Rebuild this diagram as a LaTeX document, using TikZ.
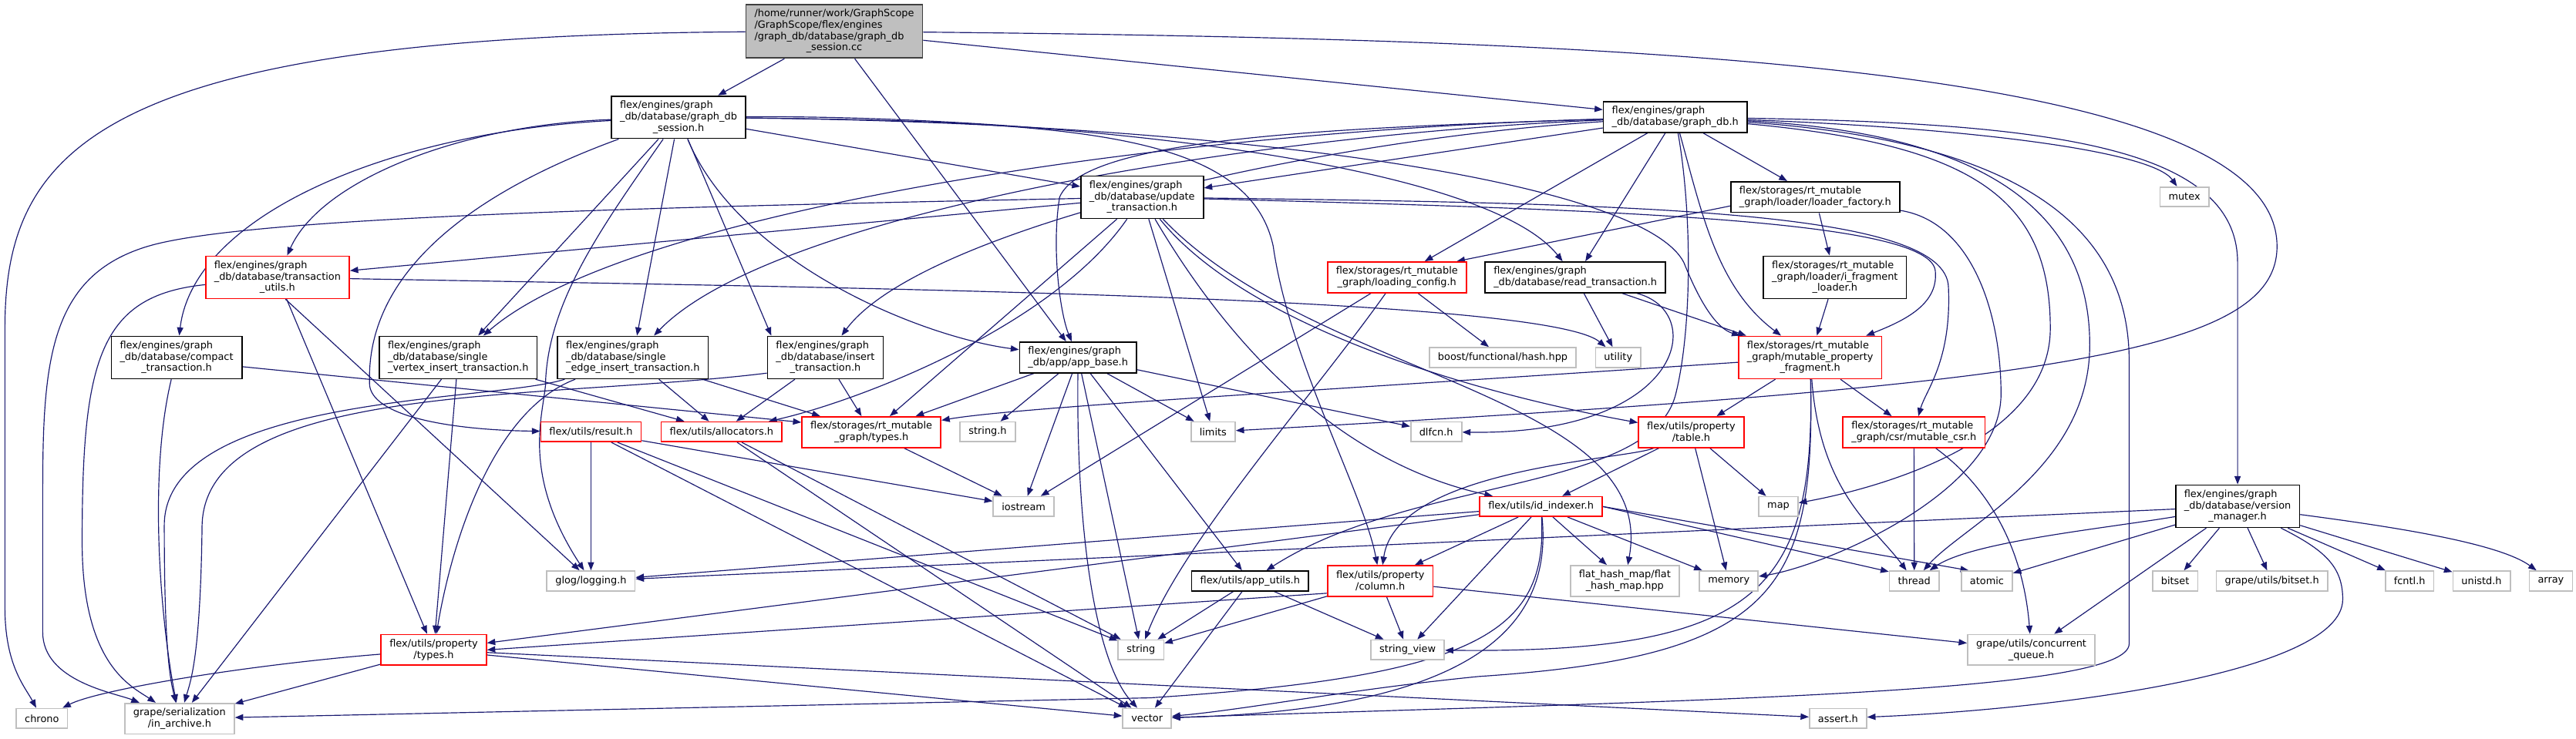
\documentclass[tikz,border=0pt]{standalone}
\usepackage{fontspec}
\usetikzlibrary{arrows.meta}
\newfontfamily\dxsans{DejaVu Sans}
\definecolor{edgeblue}{HTML}{191970}
\definecolor{sysgrey}{HTML}{BFBFBF}
\definecolor{rootfill}{HTML}{BFBFBF}
\definecolor{rootline}{HTML}{404040}
\newcommand\lastln[1]{\hspace*{0pt plus 1fil}#1}
\pgfdeclarelayer{edges}
\pgfsetlayers{edges,main}

\begin{document}
\begin{tikzpicture}[
  x=1pt, y=-1pt,
  hdr/.style={rectangle, draw=black, line width=0.8pt, fill=white, align=left, font=\dxsans\fontsize{6.05}{6.9}\selectfont, inner xsep=5.2pt, inner ysep=1pt, minimum height=12pt},
  l2/.style={minimum height=18.7pt},
  l3/.style={minimum height=25.8pt},
  l4/.style={minimum height=32.7pt},
  trunc/.style={hdr, draw=red},
  sys/.style={hdr, draw=sysgrey},
  rootfile/.style={hdr, l4, fill=rootfill, draw=rootline},
  dep/.style={-{Triangle[length=5pt,width=3.8pt]}, draw=edgeblue, line width=0.55pt}
]
\useasboundingbox (0,0) rectangle (1568,450);
\node[rootfile] (root) at (507.8,19) {/home/runner/work/GraphScope\\/GraphScope/flex/engines\\/graph\_db/database/graph\_db\\\lastln{\_session.cc}};
\node[hdr, l3] (ses) at (413,71.4) {flex/engines/graph\\\_db/database/graph\_db\\\lastln{\_session.h}};
\node[hdr, l2] (gdb) at (1019.7,71.3) {flex/engines/graph\\\lastln{\_db/database/graph\_db.h}};
\node[hdr, l3] (upd) at (695.2,120.1) {flex/engines/graph\\\_db/database/update\\\lastln{\_transaction.h}};
\node[hdr, l2] (ldf) at (1104.9,120) {flex/storages/rt\_mutable\\\lastln{\_graph/loader/loader\_factory.h}};
\node[sys] (mutex) at (1329.6,119.9) {mutex};
\node[trunc, l3] (tutl) at (168.9,168.9) {flex/engines/graph\\\_db/database/transaction\\\lastln{\_utils.h}};
\node[trunc, l2] (lcfg) at (850.3,168.9) {flex/storages/rt\_mutable\\\lastln{\_graph/loading\_config.h}};
\node[hdr, l2] (rd) at (958.9,168.9) {flex/engines/graph\\\lastln{\_db/database/read\_transaction.h}};
\node[hdr, l3] (ifl) at (1116.9,168.9) {flex/storages/rt\_mutable\\\_graph/loader/i\_fragment\\\lastln{\_loader.h}};
\node[hdr, l3] (cmp) at (107.5,217.7) {flex/engines/graph\\\_db/database/compact\\\lastln{\_transaction.h}};
\node[hdr, l3] (svi) at (278.9,217.7) {flex/engines/graph\\\_db/database/single\\\lastln{\_vertex\_insert\_transaction.h}};
\node[hdr, l3] (sei) at (385.2,217.7) {flex/engines/graph\\\_db/database/single\\\lastln{\_edge\_insert\_transaction.h}};
\node[hdr, l3] (ins) at (502.4,217.7) {flex/engines/graph\\\_db/database/insert\\\lastln{\_transaction.h}};
\node[hdr, l2] (app) at (656.2,217.7) {flex/engines/graph\\\lastln{\_db/app/app\_base.h}};
\node[sys] (bhash) at (914.7,217.7) {boost/functional/hash.hpp};
\node[sys] (utility) at (985,217.7) {utility};
\node[trunc, l3] (mpf) at (1101.8,217.7) {flex/storages/rt\_mutable\\\_graph/mutable\_property\\\lastln{\_fragment.h}};
\node[trunc] (res) at (359.7,263) {flex/utils/result.h};
\node[trunc] (alc) at (439.2,263) {flex/utils/allocators.h};
\node[trunc, l2] (rtt) at (530.4,263.2) {flex/storages/rt\_mutable\\\lastln{\_graph/types.h}};
\node[sys] (strh) at (601.2,263) {string.h};
\node[sys] (limits) at (738.4,263) {limits};
\node[sys] (dlfcn) at (874.2,263) {dlfcn.h};
\node[trunc, l2] (tbl) at (1029.4,263.2) {flex/utils/property\\\lastln{/table.h}};
\node[trunc, l2] (csr) at (1165,263.2) {flex/storages/rt\_mutable\\\lastln{\_graph/csr/mutable\_csr.h}};
\node[sys] (iostream) at (623.1,308.5) {iostream};
\node[trunc] (idx) at (938,308.5) {flex/utils/id\_indexer.h};
\node[sys] (map) at (1082.5,308.5) {map};
\node[hdr, l3] (vm) at (1362,308.3) {flex/engines/graph\\\_db/database/version\\\lastln{\_manager.h}};
\node[sys] (glog) at (359.7,353.8) {glog/logging.h};
\node[hdr] (apu) at (760.9,353.8) {flex/utils/app\_utils.h};
\node[trunc, l2] (col) at (840.2,353.8) {flex/utils/property\\\lastln{/column.h}};
\node[sys, l2] (fhm) at (989,353.8) {flat\_hash\_map/flat\\\lastln{\_hash\_map.hpp}};
\node[sys] (memory) at (1052.3,353.8) {memory};
\node[sys] (thread) at (1165.2,353.8) {thread};
\node[sys] (atomic) at (1209.4,353.8) {atomic};
\node[sys] (bitset) at (1324,353.8) {bitset};
\node[sys] (gbit) at (1382.9,353.8) {grape/utils/bitset.h};
\node[sys] (fcntl) at (1466.7,353.8) {fcntl.h};
\node[sys] (unistd) at (1510.5,353.8) {unistd.h};
\node[sys] (array) at (1552.7,353.8) {array};
\node[trunc, l2] (ptyp) at (264,395.8) {flex/utils/property\\\lastln{/types.h}};
\node[sys] (string) at (694.5,395.8) {string};
\node[sys] (sv) at (856.8,395.8) {string\_view};
\node[sys, l2] (cq) at (1236.4,395.8) {grape/utils/concurrent\\\lastln{\_queue.h}};
\node[sys] (chrono) at (25.5,437.5) {chrono};
\node[sys, l2] (arch) at (109.3,437.7) {grape/serialization\\\lastln{/in\_archive.h}};
\node[sys] (vector) at (698.2,437.5) {vector};
\node[sys] (assert) at (1118.8,437.5) {assert.h};
\begin{pgfonlayer}{edges}
\draw[dep] (root) .. controls (60,22) and (3,90) .. (3,200) -- (3,370) .. controls (3,405) and (15,418) .. (chrono);
\draw[dep] (root) -- (ses);
\draw[dep] (root) -- (app);
\draw[dep] (root) -- (gdb);
\draw[dep] (root) .. controls (1000,24) and (1386,40) .. (1386,150) .. controls (1386,215) and (1250,235) .. (limits);
\draw[dep] (ses) -- (upd);
\draw[dep] (ses) .. controls (280,76) and (195,110) .. (tutl);
\draw[dep] (ses) .. controls (240,80) and (118,130) .. (cmp);
\draw[dep] (ses) -- (svi);
\draw[dep] (ses) -- (sei);
\draw[dep] (ses) -- (ins.158);
\draw[dep] (ses) .. controls (280,120) and (222,170) .. (225,235) .. controls (228,255) and (280,262) .. (res);
\draw[dep] (ses) .. controls (450,160) and (560,205) .. (app);
\draw[dep] (ses) .. controls (620,70) and (900,95) .. (rd);
\draw[dep] (ses) .. controls (750,75) and (1000,110) .. (1025,160) .. controls (1035,185) and (1045,200) .. (mpf);
\draw[dep] (ses) .. controls (365,140) and (333,185) .. (332,235) .. controls (330,255) and (318,290) .. (glog);
\draw[dep] (ses) .. controls (650,74) and (760,80) .. (775,150) .. controls (785,220) and (830,300) .. (col);
\draw[dep] (gdb) -- (upd);
\draw[dep] (gdb) -- (ldf);
\draw[dep] (gdb) .. controls (1200,78) and (1310,92) .. (mutex);
\draw[dep] (gdb) -- (lcfg);
\draw[dep] (gdb) -- (rd);
\draw[dep] (gdb) .. controls (800,78) and (660,85) .. (645,120) .. controls (640,150) and (645,190) .. (app);
\draw[dep] (gdb) .. controls (700,80) and (380,130) .. (svi);
\draw[dep] (gdb) .. controls (760,82) and (470,130) .. (sei);
\draw[dep] (gdb) .. controls (800,85) and (560,140) .. (ins);
\draw[dep] (gdb) .. controls (1036,130) and (1045,175) .. (mpf);
\draw[dep] (gdb) .. controls (1250,75) and (1362,90) .. (1362,160) -- (vm);
\draw[dep] (gdb) .. controls (1225,82) and (1272,140) .. (1272,210) .. controls (1272,285) and (1195,320) .. (thread);
\draw[dep] (gdb) .. controls (1215,85) and (1296,130) .. (1296,220) -- (1296,392) .. controls (1296,422) and (1050,426) .. (vector);
\draw[dep] (gdb) .. controls (1200,88) and (1248,120) .. (1248,200) .. controls (1248,270) and (1140,298) .. (map);
\draw[dep] (gdb) .. controls (1030,130) and (1030,200) .. (1020,240) .. controls (1005,300) and (860,290) .. (apu);
\draw[dep] (upd) -- (tutl);
\draw[dep] (upd) .. controls (400,126) and (150,132) .. (90,150) .. controls (30,168) and (26,220) .. (26,300) -- (26,385) .. controls (26,415) and (70,422) .. (arch);
\draw[dep] (upd) .. controls (640,200) and (520,245) .. (alc);
\draw[dep] (upd) -- (rtt);
\draw[dep] (upd) -- (limits);
\draw[dep] (upd) .. controls (760,230) and (830,285) .. (idx);
\draw[dep] (upd) .. controls (760,200) and (900,240) .. (tbl);
\draw[dep] (upd) .. controls (800,230) and (1010,240) .. (fhm);
\draw[dep] (upd) .. controls (1000,124) and (1185,128) .. (1186,175) .. controls (1188,220) and (1172,238) .. (csr);
\draw[dep] (upd) .. controls (1000,128) and (1175,135) .. (1178,165) .. controls (1180,185) and (1160,195) .. (mpf);
\draw[dep] (tutl) .. controls (60,180) and (50,220) .. (50,330) .. controls (50,405) and (80,418) .. (arch);
\draw[dep] (tutl) -- (ptyp);
\draw[dep] (tutl.-70) -- (glog);
\draw[dep] (tutl) .. controls (500,175) and (940,180) .. (utility);
\draw[dep] (cmp) .. controls (90,290) and (98,380) .. (arch);
\draw[dep] (cmp.-8.5) -- (rtt.172);
\draw[dep] (svi) -- (alc);
\draw[dep] (svi) -- (ptyp);
\draw[dep] (svi) -- (arch);
\draw[dep] (sei) -- (rtt);
\draw[dep] (sei) -- (alc);
\draw[dep] (sei) .. controls (300,250) and (275,330) .. (ptyp);
\draw[dep] (sei) .. controls (300,245) and (100,240) .. (100,320) .. controls (100,400) and (104,415) .. (arch);
\draw[dep] (ins) -- (rtt);
\draw[dep] (ins) -- (alc);
\draw[dep] (ins.195) .. controls (330,244) and (125,232) .. (123,320) .. controls (122,400) and (116,415) .. (arch);
\draw[dep] (res) -- (glog);
\draw[dep] (res) -- (iostream);
\draw[dep] (res) -- (string);
\draw[dep] (res) -- (vector);
\draw[dep] (alc) -- (string);
\draw[dep] (alc) -- (vector);
\draw[dep] (rtt) -- (iostream);
\draw[dep] (lcfg) -- (bhash);
\draw[dep] (lcfg) .. controls (800,240) and (720,330) .. (string);
\draw[dep] (lcfg) -- (iostream);
\draw[dep] (ldf.186) -- (lcfg.15);
\draw[dep] (ldf) -- (ifl);
\draw[dep] (ldf) .. controls (1200,135) and (1218,190) .. (1218,240) .. controls (1218,300) and (1110,345) .. (memory);
\draw[dep] (ifl) -- (mpf);
\draw[dep] (rd) -- (utility);
\draw[dep] (rd) .. controls (1040,190) and (1025,265) .. (dlfcn);
\draw[dep] (rd) -- (mpf);
\draw[dep] (app) -- (strh);
\draw[dep] (app) -- (limits);
\draw[dep] (app) -- (dlfcn);
\draw[dep] (app) -- (iostream);
\draw[dep] (app) -- (string);
\draw[dep] (app) .. controls (655,330) and (668,405) .. (vector);
\draw[dep] (app) -- (apu);
\draw[dep] (app) -- (rtt);
\draw[dep] (mpf) -- (tbl);
\draw[dep] (mpf) -- (csr);
\draw[dep] (mpf) .. controls (1105,360) and (1080,400) .. (900,412) .. controls (820,420) and (760,432) .. (vector);
\draw[dep] (mpf) .. controls (1108,300) and (1140,320) .. (thread);
\draw[dep] (mpf) .. controls (800,238) and (620,248) .. (rtt);
\draw[dep] (mpf) .. controls (1105,360) and (1070,398) .. (sv);
\draw[dep] (tbl) .. controls (990,280) and (850,285) .. (col);
\draw[dep] (tbl) -- (idx);
\draw[dep] (tbl) -- (map);
\draw[dep] (tbl) -- (memory);
\draw[dep] (csr) -- (thread);
\draw[dep] (csr) .. controls (1215,300) and (1232,340) .. (cq);
\draw[dep] (idx) -- (glog);
\draw[dep] (idx) -- (ptyp);
\draw[dep] (idx) -- (col);
\draw[dep] (idx) -- (sv);
\draw[dep] (idx) .. controls (942,385) and (900,412) .. (700,425) -- (arch);
\draw[dep] (idx) .. controls (945,380) and (900,432) .. (vector);
\draw[dep] (idx) -- (fhm);
\draw[dep] (idx) -- (memory);
\draw[dep] (idx.east) -- (thread.160);
\draw[dep] (idx.east) -- (atomic.150);
\draw[dep] (col.193) -- (ptyp.east);
\draw[dep] (col) -- (string);
\draw[dep] (col) -- (sv);
\draw[dep] (col) -- (cq);
\draw[dep] (apu) -- (string);
\draw[dep] (apu) -- (vector);
\draw[dep] (apu) -- (sv);
\draw[dep] (ptyp) .. controls (150,405) and (60,420) .. (chrono);
\draw[dep] (ptyp) -- (arch);
\draw[dep] (ptyp) -- (vector);
\draw[dep] (ptyp) -- (assert);
\draw[dep] (vm) -- (glog);
\draw[dep] (vm) .. controls (1280,322) and (1200,330) .. (thread);
\draw[dep] (vm) -- (atomic);
\draw[dep] (vm) -- (cq);
\draw[dep] (vm) -- (bitset);
\draw[dep] (vm) -- (gbit);
\draw[dep] (vm) -- (fcntl);
\draw[dep] (vm) -- (unistd);
\draw[dep] (vm) .. controls (1450,320) and (1520,330) .. (array);
\draw[dep] (vm) .. controls (1415,335) and (1426,345) .. (1426,365) .. controls (1426,410) and (1250,432) .. (assert);
\end{pgfonlayer}
\end{tikzpicture}
\end{document}
